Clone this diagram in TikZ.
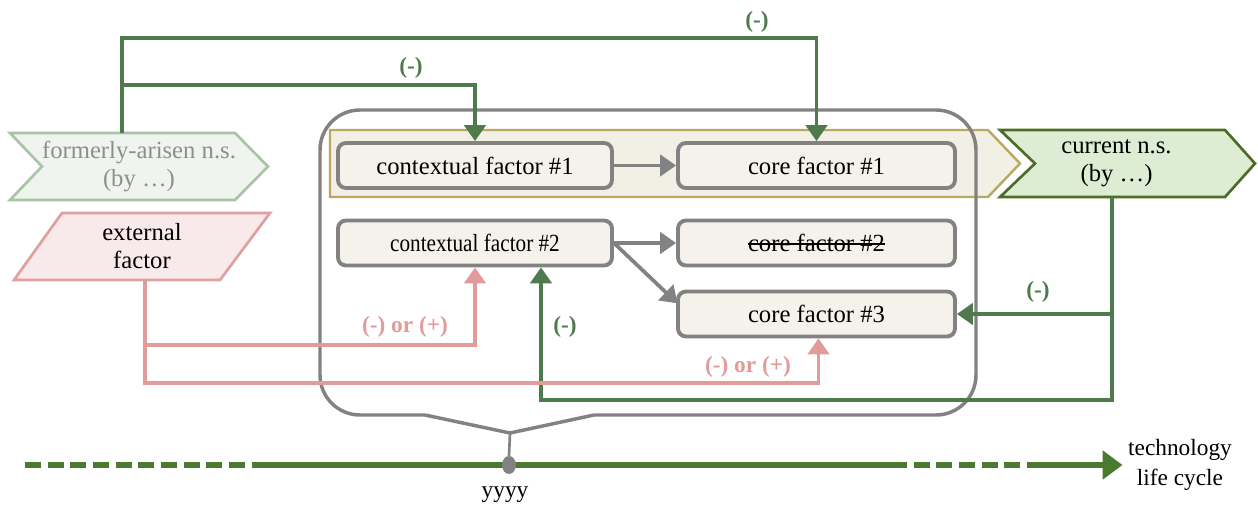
\documentclass[tikz,border=0pt]{standalone}
\usepackage{fontspec}
\setmainfont{Liberation Serif}
\usepackage{graphicx}
\usetikzlibrary{arrows.meta,backgrounds,calc,shapes.geometric}
\newcommand\mystrike[1]{\setbox0=\hbox{#1}\rlap{\copy0}\rule[0.27em]{\wd0}{0.07em}}
\definecolor{grn}{HTML}{4F7A4C}
\definecolor{tlgrn}{HTML}{4A7A30}
\definecolor{pnk}{HTML}{E29B9B}
\definecolor{gry}{HTML}{828282}
\definecolor{boxfill}{HTML}{F4F2EA}
\definecolor{bandfill}{HTML}{F2EFE4}
\definecolor{banddraw}{HTML}{B8A95E}
\definecolor{formfill}{HTML}{EFF5EE}
\definecolor{formdraw}{HTML}{A9C4A6}
\definecolor{formtext}{HTML}{8E8E8E}
\definecolor{extfill}{HTML}{F8EAEA}
\definecolor{extdraw}{HTML}{E0A0A0}
\definecolor{curfill}{HTML}{DCEDD4}
\definecolor{curdraw}{HTML}{4F6B28}
\begin{document}
\begin{tikzpicture}[x=0.75pt,y=-0.75pt,
  fbox/.style={draw=gry, line width=2.9pt, rounded corners=6pt, fill=boxfill,
    minimum width=205.5pt, minimum height=33.75pt, inner sep=0pt,
    font=\fontsize{18.5}{20}\selectfont},
  txt/.style={inner sep=0pt, font=\fontsize{18.5}{21}\selectfont, align=center},
  garrow/.style={draw=grn, line width=2.8pt, -{Triangle[length=12pt,width=16pt]}},
  parrow/.style={draw=pnk, line width=2.8pt, -{Triangle[length=12pt,width=16pt]}},
  grarrow/.style={draw=gry, line width=2.8pt, -{Triangle[length=12pt,width=16pt]}},
  glab/.style={text=grn, font=\bfseries\fontsize{17.5}{19}\selectfont, inner sep=0pt},
  plab/.style={text=pnk, font=\bfseries\fontsize{17.5}{19}\selectfont, inner sep=0pt},
  tl/.style={draw=tlgrn, line width=3.8pt}
]
\useasboundingbox (0,0) rectangle (1258,517);

% band
\draw[fill=bandfill, draw=banddraw, line width=1.8pt]
  (330,130) -- (988,130) -- (1020,163.5) -- (988,197) -- (330,197) -- cycle;
% formerly-arisen shape
\draw[fill=formfill, draw=formdraw, line width=2pt]
  (10,133) -- (235,133) -- (268,166.5) -- (235,200) -- (10,200) -- (42,166.5) -- cycle;
% external factor shape
\draw[fill=extfill, draw=extdraw, line width=2pt]
  (62,213) -- (270,213) -- (220,280) -- (14,280) -- cycle;
% current shape
\draw[fill=curfill, draw=curdraw, line width=2pt]
  (1000,130) -- (1225,130) -- (1255,163.5) -- (1225,197) -- (1000,197) -- (1035,163.5) -- cycle;

% container
\draw[draw=gry, line width=2.6pt, rounded corners=30pt]
  (425,415) -- (320,415) -- (320,110) -- (976,110) -- (976,415) -- (594,415);
\draw[draw=gry, line width=2.6pt, line join=round] (425,415) -- (510,433) -- (594,415);

% text nodes of shapes
\node[txt, text=formtext, minimum width=193.5pt, minimum height=50.25pt] (former) at (139,166.5)
  {formerly-arisen n.s.\\(by \ldots)};
\node[txt, minimum width=150pt, minimum height=50.25pt] (ext) at (142,246.5) {external\\factor};
\node[txt, minimum width=160pt, minimum height=50.25pt] (current) at (1116.5,163.5) {current n.s.\\(by \ldots)};

% boxes
\node[fbox] (cf1) at (475,165.5) {contextual factor \#1};
\node[fbox, minimum width=207.75pt] (core1) at (816.5,165.5) {core factor \#1};
\node[fbox] (cf2) at (475,243) {\scalebox{0.86}[1]{contextual factor \#2}};
\node[fbox, minimum width=207.75pt] (core2) at (816.5,243) {\mystrike{core factor \#2}};
\node[fbox, minimum width=207.75pt] (core3) at (816.5,314) {core factor \#3};

% gray arrows
\draw[grarrow] (cf1.east) -- (core1.west);
\draw[grarrow] (cf2.east) -- (core2.west);
\draw[grarrow] (cf2.east) -- ([yshift=8pt,xshift=1pt]core3.west);

% green arrows from formerly-arisen
\coordinate (br1) at (122,85);
\draw[garrow] ([xshift=-12.75pt]former.north) -- ++(0,-95) -| (core1.north);
\draw[garrow] (br1) -| (cf1.north);
\node[glab] at (757,22) {(-)};
\node[glab] at (411,68) {(-)};

% green arrows from current
\coordinate (br2) at (1112,314);
\draw[garrow] ([xshift=-3.4pt]current.south) -- ++(0,203) -| ([xshift=49.5pt]cf2.south);
\draw[garrow] (br2) -- (core3.east);
\node[glab] at (1038,292) {(-)};
\node[glab] at (565,327) {(-)};

% pink arrows from external factor
\draw[parrow] ([xshift=2.25pt]ext.south) -- ++(0,65) -| (cf2.south);
\draw[parrow] ([xshift=2.25pt]ext.south) -- ++(0,103) -| ([xshift=1.5pt]core3.south);
\node[plab] at (405,327) {(-) or (+)};
\node[plab] at (748,367) {(-) or (+)};

% timeline
\coordinate (t0) at (25,465);
\coordinate (t1) at (255,465);
\coordinate (t2) at (891,465);
\coordinate (t3) at (1031,465);
\node[txt, font=\fontsize{17.5}{22}\selectfont] (tlc) at (1180,465) {technology\\life cycle};
\draw[tl, dash pattern=on 12pt off 5pt] (t0) -- (t1);
\draw[tl] (t1) -- (t2);
\draw[tl, dash pattern=on 12pt off 5pt] (t2) -- (t3);
\draw[tl, -{Triangle[length=15pt,width=21pt]}] (t3) -- ([xshift=-4pt]tlc.west);
\node[draw=gry, fill=gry, ellipse, minimum width=10pt, minimum height=13pt, inner sep=0pt] (dot) at (509,465) {};
\draw[draw=gry, line width=2pt] (510,433) -- (dot.north);
\node[txt, font=\fontsize{17.5}{20}\selectfont] (yy) at (505,495) {yyyy};
\end{tikzpicture}
\end{document}
